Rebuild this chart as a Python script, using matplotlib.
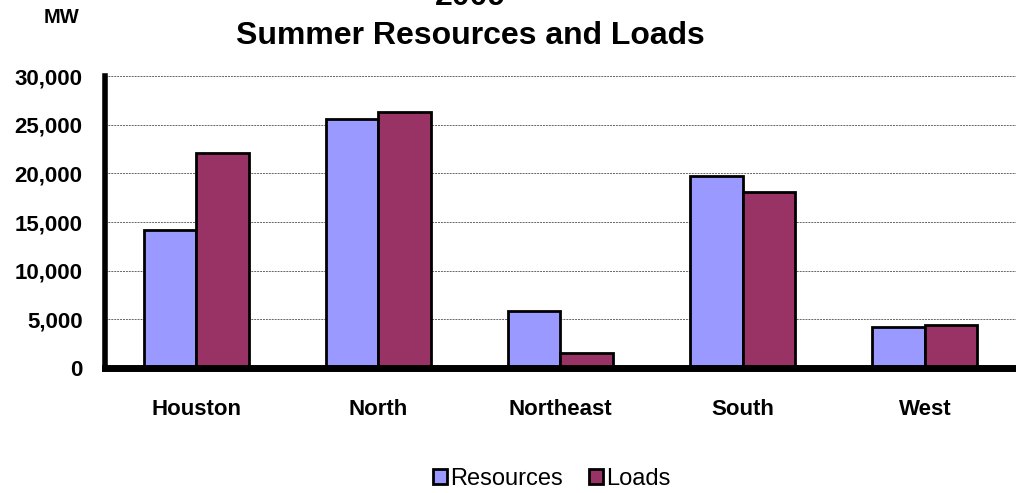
import numpy as np
import matplotlib.pyplot as plt

plt.rcParams['font.family'] = ['Liberation Sans', 'DejaVu Sans']

# data (MW)
regions = ['Houston', 'North', 'Northeast', 'South', 'West']
resources = [14200, 25600, 5900, 19700, 4250]
loads = [22100, 26300, 1500, 18100, 4400]
yticks = [0, 5000, 10000, 15000, 20000, 25000, 30000]

fig = plt.figure(figsize=(10.16, 4.93), dpi=100)
ax = fig.add_axes([0.1033, 0.2535, 0.8967, 0.5923])

x = np.arange(len(regions))
w = 0.288
ax.bar(x - w / 2, resources, w, color='#9999FF', edgecolor='black', linewidth=2,
       label='Resources', zorder=3)
ax.bar(x + w / 2, loads, w, color='#993366', edgecolor='black', linewidth=2,
       label='Loads', zorder=3)

ax.set_xlim(-0.5, len(regions) - 0.5)
ax.set_ylim(0, 30000)
ax.set_yticks(yticks)
ax.set_yticklabels([f'{v:,}' for v in yticks], fontsize=16, fontweight='bold')
ax.set_xticks(x)
ax.set_xticklabels(regions, fontsize=16, fontweight='bold')
ax.tick_params(axis='both', length=0)
ax.tick_params(axis='y', pad=16)
ax.tick_params(axis='x', pad=22)

ax.grid(axis='y', color='#666666', linestyle=(0, (2, 1)), linewidth=0.7, zorder=0)
for s in ['top', 'right']:
    ax.spines[s].set_visible(False)
ax.spines['left'].set_linewidth(4)
ax.spines['bottom'].set_linewidth(5)
ax.spines['bottom'].set_zorder(4)

# title: first line sits mostly above the canvas, as in the source image
fig.text(0.4626, 1.007, '2009', ha='center', va='center',
         fontsize=23, fontweight='bold')
fig.text(0.4626, 0.927, 'Summer Resources and Loads', ha='center', va='center',
         fontsize=23, fontweight='bold')
fig.text(0.061, 0.964, 'MW', fontsize=14.5, fontweight='bold', ha='center', va='center')

fig.legend(loc='center', bbox_to_anchor=(0.543, 0.028), ncol=2, frameon=False,
           fontsize=17, handlelength=0.6, handleheight=0.6, handletextpad=0.12,
           columnspacing=1.1)

fig.savefig('out.png', dpi=100)
